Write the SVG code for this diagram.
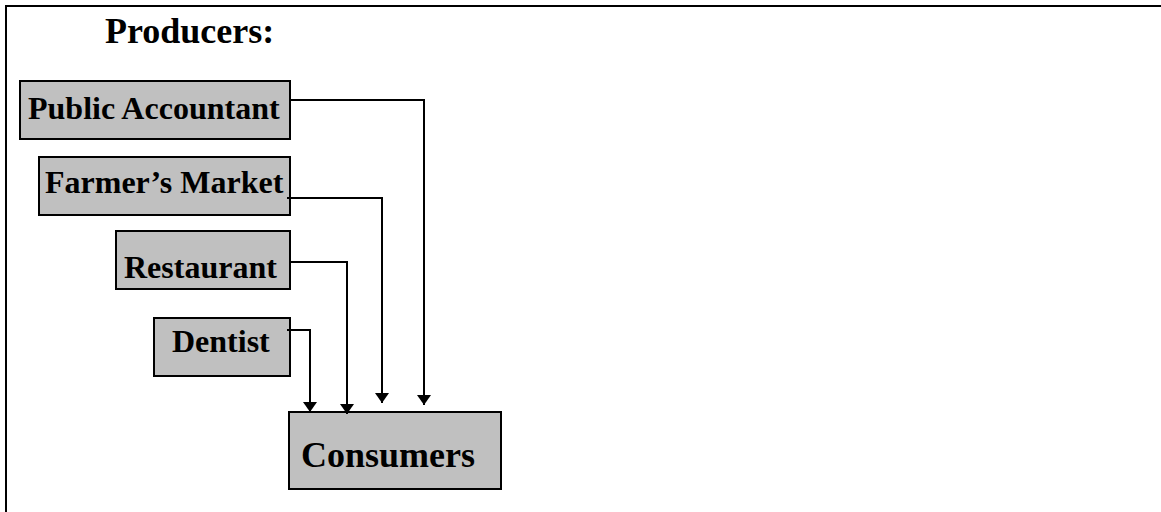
<svg xmlns="http://www.w3.org/2000/svg" width="1161" height="512" viewBox="0 0 1161 512">
<defs>
<style>
.box{fill:#c0c0c0;stroke:#000;stroke-width:2}
.lbl{font-family:"Liberation Serif","Times New Roman",serif;font-weight:bold;font-size:32px;fill:#000}
.conn{fill:none;stroke:#000;stroke-width:2}
</style>
<marker id="arr" markerUnits="userSpaceOnUse" viewBox="0 0 10 14" refX="10" refY="7" markerWidth="10" markerHeight="14" orient="auto">
<path d="M0,0 L10,7 L0,14 z" fill="#000"/>
</marker>
</defs>
<rect width="1161" height="512" fill="#fff"/>
<path d="M6,512 L6,6 L1161,6" fill="none" stroke="#000" stroke-width="2"/>
<text x="105" y="43" class="lbl" style="font-size:36px">Producers:</text>
<g id="public-accountant">
<rect class="box" x="20" y="81" width="270" height="58"/>
<text x="28" y="119" class="lbl">Public Accountant</text>
</g>
<g id="farmers-market">
<rect class="box" x="39" y="157" width="251" height="58"/>
<text x="45" y="193" class="lbl">Farmer’s Market</text>
</g>
<g id="restaurant">
<rect class="box" x="116" y="231" width="174" height="58"/>
<text x="124" y="278" class="lbl">Restaurant</text>
</g>
<g id="dentist">
<rect class="box" x="154" y="318" width="136" height="58"/>
<text x="172" y="352" class="lbl">Dentist</text>
</g>
<g id="consumers">
<rect class="box" x="289" y="412" width="212" height="77"/>
<text x="301" y="467" class="lbl" style="font-size:36px">Consumers</text>
</g>
<g id="connectors">
<path class="conn" d="M290,100 H424 V405" marker-end="url(#arr)"/>
<path class="conn" d="M287,198 H382 V403" marker-end="url(#arr)"/>
<path class="conn" d="M290,262 H347 V414" marker-end="url(#arr)"/>
<path class="conn" d="M287,330 H310 V412" marker-end="url(#arr)"/>
</g>
</svg>
